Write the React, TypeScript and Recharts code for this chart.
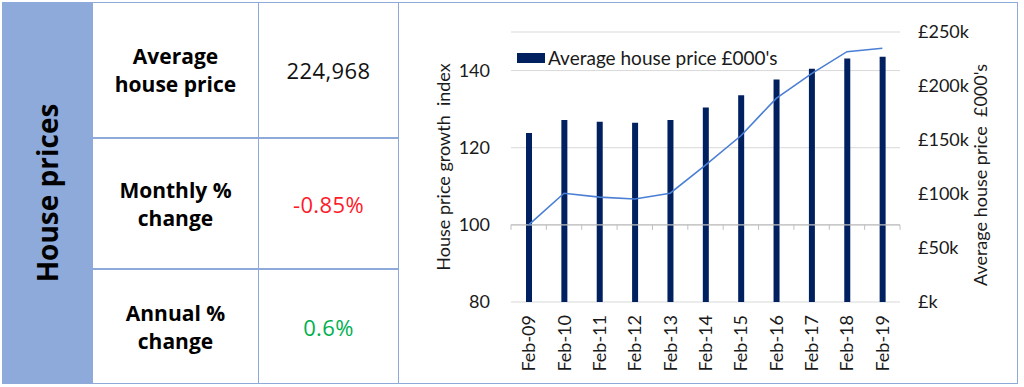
import React from "react"
import { ComposedChart, Bar, Line, XAxis, YAxis, CartesianGrid, ReferenceLine } from "recharts"

const categories = ["Feb-09", "Feb-10", "Feb-11", "Feb-12", "Feb-13", "Feb-14", "Feb-15", "Feb-16", "Feb-17", "Feb-18", "Feb-19"]
const avgPriceK = [156.5, 168.5, 167, 166, 168.5, 180, 191.5, 206, 216, 225.5, 227]
const growthIndex = [100, 108.2, 107.2, 106.7, 108.2, 115.5, 123.1, 132.8, 139.2, 144.9, 145.8]
const indexTicks = [80, 100, 120, 140]
const priceTicks = [0, 50, 100, 150, 200, 250]

const stats = [
  { label: ["Average", "house price"], value: "224,968", color: "#111" },
  { label: ["Monthly %", "change"], value: "-0.85%", color: "#ff1a2a" },
  { label: ["Annual %", "change"], value: "0.6%", color: "#00b050" },
]

const data = categories.map((c, i) => ({ month: c, price: avgPriceK[i], index: growthIndex[i] }))

const BORDER = "#8eaadb"
const AXIS_FONT = "Lato, 'Liberation Sans', sans-serif"
const TABLE_FONT = "'Open Sans', 'Noto Sans', sans-serif"

// plot geometry, used only for the excel-style axis crossing at 100
const PLOT_TOP = 32
const PLOT_BOTTOM = 85
const CHART_H = 387
const PLOT_H = CHART_H - PLOT_TOP - PLOT_BOTTOM
const IDX_MIN = 80
const IDX_MAX = 150
const CROSS_AT = 100

const XTick = (props: any) => {
  const { x, y, payload, index, visibleTicksCount } = props
  const half = payload.offset || 17.7
  const crossY = y - PLOT_H * (CROSS_AT - IDX_MIN) / (IDX_MAX - IDX_MIN)
  return (
    <g>
      <line x1={x - half} x2={x - half} y1={crossY} y2={crossY + 5} stroke="#bfbfbf" />
      {index === visibleTicksCount - 1 && (
        <line x1={x + half} x2={x + half} y1={crossY} y2={crossY + 5} stroke="#bfbfbf" />
      )}
      <g transform={`translate(${x},${y + 13}) rotate(-90)`}>
        <text textAnchor="end" dy="0.36em" fontSize={18} fill="#1a1a1a" fontFamily={AXIS_FONT}>
          {payload.value}
        </text>
      </g>
    </g>
  )
}

const priceFmt = (v: number) => (v === 0 ? "£k" : `£${v}k`)

export default function App() {
  return (
    <div style={{ position: "absolute", left: 0, top: 0, width: 1024, height: 387, background: "#fff" }}>
      <div style={{ position: "absolute", left: 2, top: 2, width: 90, height: 382, background: BORDER }} />
      <div
        style={{
          position: "absolute", left: 47, top: 193, transform: "translate(-50%,-50%) rotate(-90deg)",
          fontFamily: TABLE_FONT, fontWeight: 700, fontSize: 28, whiteSpace: "nowrap", color: "#000",
        }}
      >
        House prices
      </div>

      {stats.map((s, i) => {
        const tops = [2, 138, 269, 384]
        const top = tops[i]
        const h = tops[i + 1] - top
        return (
          <React.Fragment key={i}>
            <div
              style={{
                position: "absolute", left: 92, top, width: 167, height: h, boxSizing: "border-box",
                border: `1.5px solid ${BORDER}`, display: "flex", flexDirection: "column",
                alignItems: "center", justifyContent: "center", fontFamily: TABLE_FONT,
                fontWeight: 700, fontSize: 21, lineHeight: "28px", color: "#000",
              }}
            >
              {s.label.map(l => <div key={l}>{l}</div>)}
            </div>
            <div
              style={{
                position: "absolute", left: 258, top, width: 141, height: h, boxSizing: "border-box",
                border: `1.5px solid ${BORDER}`, display: "flex", alignItems: "center",
                justifyContent: "center", fontFamily: TABLE_FONT, fontSize: 22, color: s.color,
                letterSpacing: 0.4,
              }}
            >
              {s.value}
            </div>
          </React.Fragment>
        )
      })}

      <div
        style={{
          position: "absolute", left: 398, top: 2, width: 620, height: 382, boxSizing: "border-box",
          border: `1.5px solid ${BORDER}`,
        }}
      />

      <div style={{ position: "absolute", left: 398, top: 0 }}>
        <ComposedChart
          width={620}
          height={CHART_H}
          data={data}
          margin={{ top: PLOT_TOP, right: 18, bottom: 15, left: 53 }}
        >
          <CartesianGrid yAxisId="left" vertical={false} stroke="#d9d9d9" strokeWidth={1} />
          <XAxis
            dataKey="month"
            interval={0}
            height={70}
            axisLine={false}
            tickLine={false}
            tickSize={0}
            tickMargin={0}
            tick={<XTick />}
          />
          <YAxis
            yAxisId="left"
            width={60}
            domain={[IDX_MIN, IDX_MAX]}
            ticks={indexTicks}
            axisLine={false}
            tickLine={false}
            tickSize={0}
            tickMargin={21}
            tick={{ fontSize: 18, fill: "#1a1a1a", fontFamily: AXIS_FONT }}
            label={({ viewBox }: any) => (
              <text
                x={viewBox.x - 8}
                y={viewBox.y + viewBox.height / 2}
                transform={`rotate(-90 ${viewBox.x - 8} ${viewBox.y + viewBox.height / 2})`}
                textAnchor="middle"
                dominantBaseline="central"
                fontSize={18}
                fill="#1a1a1a"
                fontFamily={AXIS_FONT}
                style={{ whiteSpace: "pre" }}
              >
                House price growth  index
              </text>
            )}
          />
          <YAxis
            yAxisId="right"
            orientation="right"
            width={100}
            domain={[0, 250]}
            ticks={priceTicks}
            tickFormatter={priceFmt}
            axisLine={false}
            tickLine={false}
            tickSize={0}
            tickMargin={18}
            tick={{ fontSize: 18, fill: "#1a1a1a", fontFamily: AXIS_FONT, textAnchor: "start" }}
            label={({ viewBox }: any) => (
              <text
                x={viewBox.x + 80}
                y={viewBox.y + viewBox.height / 2 + 8}
                transform={`rotate(-90 ${viewBox.x + 80} ${viewBox.y + viewBox.height / 2 + 8})`}
                textAnchor="middle"
                dominantBaseline="central"
                fontSize={18}
                fill="#1a1a1a"
                fontFamily={AXIS_FONT}
                style={{ whiteSpace: "pre" }}
              >
                Average house price  £000's
              </text>
            )}
          />
          <ReferenceLine yAxisId="left" y={CROSS_AT} stroke="#bfbfbf" strokeWidth={1.2} />
          <Bar yAxisId="right" dataKey="price" fill="#002060" barSize={6} isAnimationActive={false} />
          <Line
            yAxisId="left"
            dataKey="index"
            type="linear"
            stroke="#4a7fd4"
            strokeWidth={1.6}
            dot={false}
            isAnimationActive={false}
          />
        </ComposedChart>
      </div>

      <div
        style={{
          position: "absolute", left: 517, top: 46, display: "flex", alignItems: "center",
          fontFamily: AXIS_FONT, fontSize: 19, color: "#1a1a1a", whiteSpace: "nowrap",
        }}
      >
        <span style={{ display: "inline-block", width: 28, height: 10, background: "#002060", marginRight: 3 }} />
        Average house price £000's
      </div>
    </div>
  )
}
